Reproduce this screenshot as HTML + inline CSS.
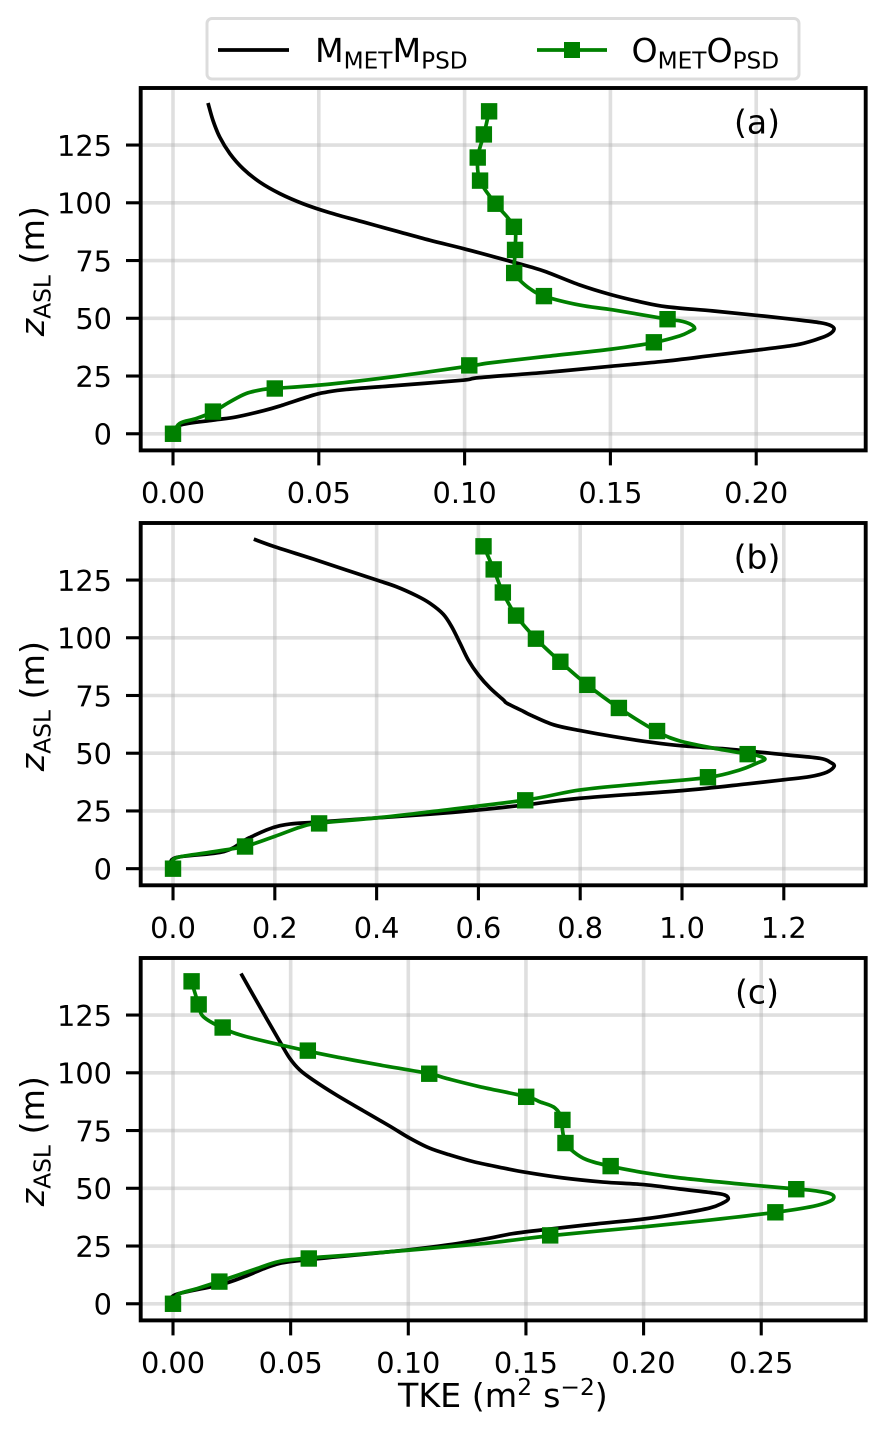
<!DOCTYPE html>
<html lang="en">
<head>
<meta charset="utf-8">
<title>TKE profiles</title>
<style>
html,body{margin:0;padding:0;background:#fff;}
svg{display:block;font-family:"DejaVu Sans","Liberation Sans",sans-serif;}
</style>
</head>
<body>
<svg id="chart" xmlns="http://www.w3.org/2000/svg" width="886" height="1431" viewBox="0 0 886 1431"></svg>
<script>
// ---- shared ticks ----
const zTicks = [0, 25, 50, 75, 100, 125];
const zTickLabels = ["0", "25", "50", "75", "100", "125"];
const markerZ = [0, 9.6, 19.6, 29.6, 39.6, 49.6, 59.6, 69.6, 79.6, 89.6, 99.6, 109.6, 119.6, 129.6, 139.6];

// ---- panel (a) ----
const aXTicks = [0, 0.05, 0.10, 0.15, 0.20];
const aXTickLabels = ["0.00", "0.05", "0.10", "0.15", "0.20"];
const aModelTke = [0, .0023, .0137, .0217, .031, .0366, .048, .0526, .0595, .0767, .0995, .105, .128, .15, .168, .185, .2, .2058, .2138, .2196, .2247, .2267, .2253, .2219, .2138, .2, .185, .1692, .16, .15, .1395, .128, .1224, .111, .0995, .088, .0767, .0652, .0538, .0446, .0366, .0297, .024, .0195, .016, .0137, .012];
const aModelZ = [0, 3.7, 5.9, 7.3, 10, 12, 16.7, 18, 19.2, 20.9, 23.2, 24.3, 26.6, 29.2, 31.3, 33.9, 36.2, 37.1, 38.5, 40.4, 42.8, 45.3, 47, 48.1, 49.4, 51.3, 53.2, 55, 57.2, 60.3, 64.4, 70.1, 72.3, 76.3, 80.2, 83.8, 87.7, 91.7, 95.7, 99.6, 104, 109, 114.8, 121.3, 128.5, 135.7, 143.2];
const aObsTke = [0, .0023, .008, .0137, .0195, .025, .031, .0349, .0538, .0767, .1016, .1087, .128, .15, .1649, .1738, .1772, .1789, .1772, .1738, .1696, .151, .1395, .1272, .1223, .1189, .117, .1173, .1169, .1106, .1053, .1045, .1066, .1084, .1086];
const aObsZ = [0, 4.5, 6.6, 9.5, 13.8, 17.4, 19.2, 19.6, 21.5, 24.9, 29.3, 30.7, 33.5, 36.6, 39.5, 42.4, 44.3, 45.7, 47.6, 48.9, 49.6, 53.6, 55.7, 59.6, 62.9, 66.5, 69.4, 79.6, 89.7, 99.6, 109.5, 119.5, 129.5, 139.5, 141];
const aMarkerTke = [0, .0137, .0349, .1016, .1649, .1696, .1272, .117, .1173, .1169, .1106, .1053, .1045, .1066, .1084];

// ---- panel (b) ----
const bXTicks = [0, 0.2, 0.4, 0.6, 0.8, 1.0, 1.2];
const bXTickLabels = ["0.0", "0.2", "0.4", "0.6", "0.8", "1.0", "1.2"];
const bModelTke = [0, .004, .1, .15, .21, .29, .505, .6035, .692, .8, 1, 1.127, 1.2, 1.2517, 1.2846, 1.299, 1.291, 1.271, 1.2, 1.0947, 1, .944, .8655, .8, .748, .702, .6885, .6565, .649, .623, .6, .58, .564, .5475, .531, .505, .4787, .439, .4, .341, .2754, .2, .1587];
const bModelZ = [0, 4.7, 7.4, 13.4, 18.6, 20.3, 23.6, 25.5, 27.6, 30.5, 33.8, 36.7, 38.5, 39.9, 41.8, 44.4, 46.1, 47.8, 49.4, 51.7, 53.2, 54.6, 57.2, 59.8, 62.3, 66.6, 68.1, 71.6, 73.1, 78.2, 83.9, 90.4, 97.6, 104.8, 110.2, 114.9, 118.2, 122.1, 125, 129.3, 134.1, 139.4, 142.7];
const bObsTke = [0, .004, .07, .1415, .2, .25, .287, .4, .5, .692, .8, .931, 1.051, 1.114, 1.147, 1.163, 1.147, 1.129, 1.062, .996, .951, .876, .814, .761, .713, .674, .648, .63, .61, .605];
const bObsZ = [0, 4.5, 7, 9.7, 14, 18, 19.7, 22, 24.5, 29.7, 34.1, 37, 39.5, 42.8, 45.7, 47.5, 49.1, 49.7, 52.2, 55.3, 59.4, 69.6, 79.6, 89.6, 99.6, 109.6, 119.6, 129.6, 139.6, 141];
const bMarkerTke = [0, .1415, .287, .692, 1.051, 1.129, .951, .876, .814, .761, .713, .674, .648, .63, .61];

// ---- panel (c) ----
const cXTicks = [0, 0.05, 0.10, 0.15, 0.20, 0.25];
const cXTickLabels = ["0.00", "0.05", "0.10", "0.15", "0.20", "0.25"];
const cModelTke = [0, .001, .02, .0305, .0409, .05, .0738, .0997, .117, .1344, .1445, .1605, .18, .2, .2154, .2282, .2338, .236, .2345, .2296, .2154, .2, .1828, .1657, .15, .1388, .1274, .1175, .109, .1006, .092, .0808, .0694, .0595, .0539, .0496, .0454, .0397, .0341, .0289];
const cModelZ = [0, 3.9, 8.2, 11.8, 16.1, 18.3, 20.7, 23.3, 25.5, 28.4, 30.4, 32.4, 34.6, 36.7, 39, 41.5, 43.7, 45.4, 47.1, 48, 49.7, 51.6, 52.7, 54.5, 56.9, 59.1, 61.6, 64.5, 67.4, 71.7, 77, 83.6, 90.4, 96.9, 101.2, 106.3, 113.5, 123.6, 133.6, 143];
const cObsTke = [0, .002, .01, .0197, .035, .045, .0577, .08, .1303, .1605, .2, .2296, .256, .2721, .2792, .2809, .2792, .2721, .2649, .2437, .2154, .2012, .186, .1757, .17, .1668, .1655, .1655, .1623, .156, .1501, .1303, .1161, .1089, .0878, .0723, .0573, .0313, .0211, .0129, .0109, .0079, .0075];
const cObsZ = [0, 4, 6.5, 9.7, 15, 18.3, 19.8, 21.5, 25.9, 29.5, 33.3, 36.4, 39.6, 42.2, 44.4, 46.2, 47.7, 49, 49.7, 51.6, 54.5, 56.6, 59.5, 62.4, 66, 69.6, 75.4, 79.7, 84.8, 87.4, 89.7, 94, 97.6, 99.6, 103.4, 106.3, 109.4, 115.6, 119.4, 124.3, 129.5, 139.4, 141];
const cMarkerTke = [0, .0197, .0577, .1603, .256, .2649, .186, .1668, .1655, .1501, .1089, .0573, .0211, .0109, .0079];

const NS = "http://www.w3.org/2000/svg";
const svg = document.getElementById("chart");
const AX_LEFT = 140.7, AX_RIGHT = 865.7;
const INK = "#000000", GREEN = "#008000";
const LINE_W = 3.7, GRID_W = 3.6;

function make(tag, attrs, parent) {
  const n = document.createElementNS(NS, tag);
  for (const k in attrs) n.setAttribute(k, attrs[k]);
  parent.appendChild(n);
  return n;
}
function linear(d0, d1, r0, r1) {
  return function (v) { return r0 + (v - d0) * (r1 - r0) / (d1 - d0); };
}
// Smooth path through data points (Catmull-Rom converted to cubic Beziers)
function curvePath(xs, zs, sx, sy) {
  const p = xs.map(function (v, i) { return [sx(v), sy(zs[i])]; });
  let d = "M" + p[0][0].toFixed(2) + " " + p[0][1].toFixed(2);
  for (let i = 0; i < p.length - 1; i++) {
    const a = p[Math.max(i - 1, 0)], b = p[i], c = p[i + 1], e = p[Math.min(i + 2, p.length - 1)];
    const c1x = b[0] + (c[0] - a[0]) / 6, c1y = b[1] + (c[1] - a[1]) / 6;
    const c2x = c[0] - (e[0] - b[0]) / 6, c2y = c[1] - (e[1] - b[1]) / 6;
    d += "C" + c1x.toFixed(2) + " " + c1y.toFixed(2) + " " + c2x.toFixed(2) + " " + c2y.toFixed(2) + " " + c[0].toFixed(2) + " " + c[1].toFixed(2);
  }
  return d;
}

function drawPanel(key, letter, cfg) {
  const sx = linear(cfg.xMin, cfg.xMax, AX_LEFT, AX_RIGHT);
  const sy = linear(-7.2, 149.7, cfg.bottom, cfg.top);
  const g = make("g", {}, svg);
  
  

  const bg = make("rect", { x: AX_LEFT, y: cfg.top, width: AX_RIGHT - AX_LEFT, height: cfg.bottom - cfg.top, fill: "#fff" }, g);
  
  

  cfg.xTicks.forEach(function (t, i) {
    const x = sx(t);
    const grid = make("line", { x1: x, x2: x, y1: cfg.top, y2: cfg.bottom, stroke: "#b0b0b0", "stroke-opacity": 0.4, "stroke-width": GRID_W }, g);
    
    
    const tick = make("line", { x1: x, x2: x, y1: cfg.bottom, y2: cfg.bottom + 15, stroke: INK, "stroke-width": 3.1 }, g);
    
    
    const label = make("text", { x: x, y: cfg.bottom + 52.6, "text-anchor": "middle", "font-size": 28.8, fill: INK }, g);
    label.textContent = cfg.xLabels[i];
    
    
  });
  zTicks.forEach(function (t, i) {
    const y = sy(t);
    const grid = make("line", { x1: AX_LEFT, x2: AX_RIGHT, y1: y, y2: y, stroke: "#b0b0b0", "stroke-opacity": 0.4, "stroke-width": GRID_W }, g);
    
    
    const tick = make("line", { x1: 126, x2: AX_LEFT, y1: y, y2: y, stroke: INK, "stroke-width": 3.1 }, g);
    
    
    const label = make("text", { x: 112, y: y + 10.8, "text-anchor": "end", "font-size": 28.8, fill: INK }, g);
    label.textContent = zTickLabels[i];
    
    
  });

  const model = make("path", { d: curvePath(cfg.modelTke, cfg.modelZ, sx, sy), fill: "none", stroke: INK, "stroke-width": LINE_W, "stroke-linejoin": "round" }, g);
  
  
  const obs = make("path", { d: curvePath(cfg.obsTke, cfg.obsZ, sx, sy), fill: "none", stroke: GREEN, "stroke-width": LINE_W, "stroke-linejoin": "round" }, g);
  
  
  cfg.markerTke.forEach(function (v, i) {
    const m = make("rect", { x: sx(v) - 8.2, y: sy(markerZ[i]) - 8.2, width: 16.4, height: 16.4, fill: GREEN }, g);
    
    
  });

  const frame = make("rect", { x: AX_LEFT, y: cfg.top, width: AX_RIGHT - AX_LEFT, height: cfg.bottom - cfg.top, fill: "none", stroke: INK, "stroke-width": 3.9 }, g);
  
  

  const tag = make("text", { x: 757, y: cfg.top + 45.7, "text-anchor": "middle", "font-size": 33, fill: INK }, g);
  tag.textContent = "(" + letter + ")";
  
  

  const cy = (cfg.top + cfg.bottom) / 2 + 2;
  const yl = make("text", { transform: "translate(44," + cy + ") rotate(-90)", "text-anchor": "middle", "font-size": 33.3, fill: INK }, g);
  
  
  const zVar = make("tspan", { "font-style": "italic" }, yl);
  zVar.textContent = "z";
  const zSub = make("tspan", { dy: 6.5, "font-size": 23.3 }, yl);
  zSub.textContent = "ASL";
  const zUnit = make("tspan", { dy: -6.5 }, yl);
  zUnit.textContent = " (m)";
}

drawPanel("a", "a", { top: 88, bottom: 450.4, xMin: -0.01108, xMax: 0.23755, xTicks: aXTicks, xLabels: aXTickLabels, modelTke: aModelTke, modelZ: aModelZ, obsTke: aObsTke, obsZ: aObsZ, markerTke: aMarkerTke });
drawPanel("b", "b", { top: 523, bottom: 885.3, xMin: -0.0635, xMax: 1.3609, xTicks: bXTicks, xLabels: bXTickLabels, modelTke: bModelTke, modelZ: bModelZ, obsTke: bObsTke, obsZ: bObsZ, markerTke: bMarkerTke });
drawPanel("c", "c", { top: 958, bottom: 1320.4, xMin: -0.01373, xMax: 0.2944, xTicks: cXTicks, xLabels: cXTickLabels, modelTke: cModelTke, modelZ: cModelZ, obsTke: cObsTke, obsZ: cObsZ, markerTke: cMarkerTke });

// ---- x axis title ----
const xTitle = make("text", { x: 398, y: 1407, "font-size": 33.3, fill: INK }, svg);


const t1 = make("tspan", {}, xTitle);
t1.textContent = "TKE (m";
const t2 = make("tspan", { dy: -12, "font-size": 23.3 }, xTitle);
t2.textContent = "2";
const t3 = make("tspan", { dy: 12, dx: 11 }, xTitle);
t3.textContent = "s";
const t4 = make("tspan", { dy: -12, "font-size": 23.3 }, xTitle);
t4.textContent = "\u22122";
const t5 = make("tspan", { dy: 12 }, xTitle);
t5.textContent = ")";

// ---- legend ----
const legend = make("g", {}, svg);


const box = make("rect", { x: 207, y: 18.5, width: 592, height: 60.5, rx: 5, fill: "#fff", "fill-opacity": 0.8, stroke: "#dcdcdc", "stroke-width": 3 }, legend);


const h1 = make("line", { x1: 218, x2: 289, y1: 50, y2: 50, stroke: INK, "stroke-width": LINE_W }, legend);


const l1 = make("text", { x: 315, y: 62, "font-size": 33.2, fill: INK }, legend);


const l1a = make("tspan", {}, l1);
l1a.textContent = "M";
const l1b = make("tspan", { dy: 6.5, "font-size": 23.2 }, l1);
l1b.textContent = "MET";
const l1c = make("tspan", { dy: -6.5 }, l1);
l1c.textContent = "M";
const l1d = make("tspan", { dy: 6.5, "font-size": 23.2 }, l1);
l1d.textContent = "PSD";
const h2 = make("line", { x1: 537, x2: 607, y1: 50, y2: 50, stroke: GREEN, "stroke-width": LINE_W }, legend);


const hm = make("rect", { x: 564, y: 42, width: 16, height: 16, fill: GREEN }, legend);


const l2 = make("text", { x: 631.5, y: 62, "font-size": 33.2, fill: INK }, legend);


const l2a = make("tspan", {}, l2);
l2a.textContent = "O";
const l2b = make("tspan", { dy: 6.5, "font-size": 23.2 }, l2);
l2b.textContent = "MET";
const l2c = make("tspan", { dy: -6.5 }, l2);
l2c.textContent = "O";
const l2d = make("tspan", { dy: 6.5, "font-size": 23.2 }, l2);
l2d.textContent = "PSD";
</script>
</body>
</html>
